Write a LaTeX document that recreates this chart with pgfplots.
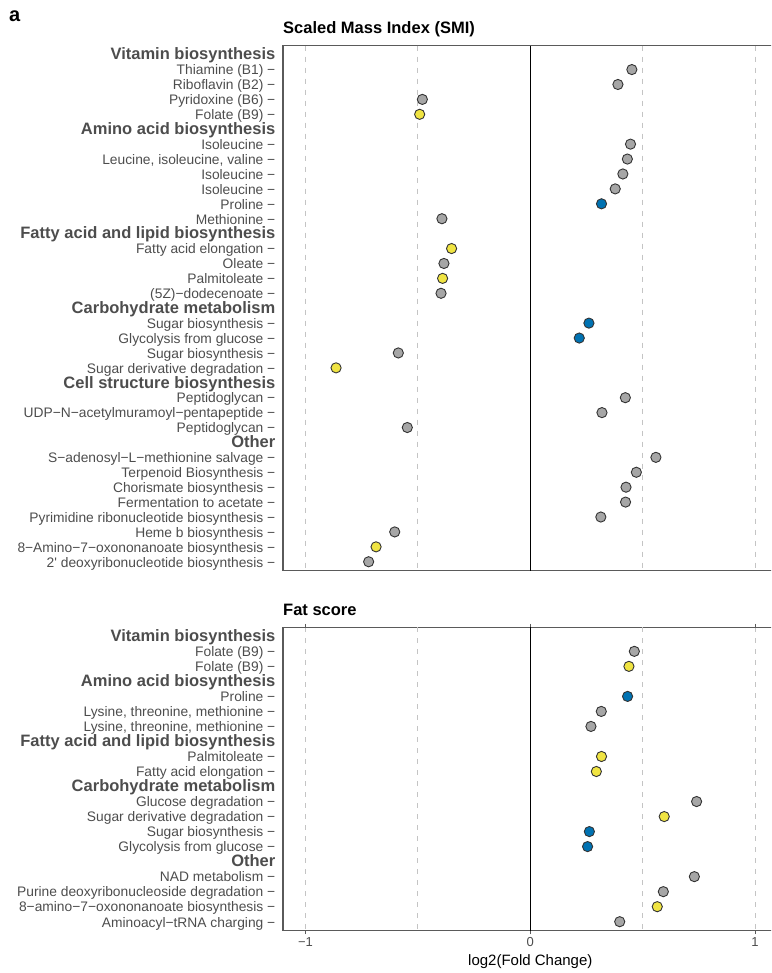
\documentclass[border=0pt]{standalone}
\usepackage{fontspec}
\setmainfont{Liberation Sans}
\usepackage{pgfplots}
\pgfplotsset{compat=1.18}

\definecolor{txtgray}{HTML}{4D4D4D}
\definecolor{ptgray}{HTML}{A6A6A6}
\definecolor{ptyellow}{HTML}{F0E442}
\definecolor{ptblue}{HTML}{0072B2}
\definecolor{gridgray}{HTML}{C4C4C4}
\definecolor{framegray}{HTML}{5A5A5A}
\definecolor{ptedge}{HTML}{333333}

% pathway group heading inside the category axis
\newcommand{\hd}[1]{{\fontsize{16.5}{16.5}\selectfont\bfseries #1}}

\pgfplotsset{
  dotpanel/.style={
    scale only axis,
    width=503.5pt,
    xmin=-1.1, xmax=1.14,
    y dir=reverse,
    axis line style={framegray, line width=1.1pt},
    tick align=outside,
    major tick length=3.5pt,
    ytick style={draw=none},
    xtick style={framegray, line width=0.9pt},
    xtick={-1,0,1},
    xmajorgrids,
    extra x ticks={-0.5,0.5},
    extra x tick labels={},
    extra x tick style={grid=major, major tick length=0pt},
    grid style={gridgray, dash pattern=on 5pt off 6pt, line width=0.9pt},
    yticklabel style={anchor=base east, inner sep=0pt, xshift=-4pt, yshift=-5.3pt,
      font=\fontsize{13.8}{13.8}\selectfont, text=txtgray},
    xticklabel style={anchor=north, inner sep=0pt, yshift=-3pt,
      font=\fontsize{13}{13}\selectfont, text=txtgray},
  },
  grey pts/.style={only marks, mark=*, mark size=5.1pt,
    mark options={fill=ptgray, draw=ptedge, line width=0.9pt}},
  yellow pts/.style={only marks, mark=*, mark size=5.1pt,
    mark options={fill=ptyellow, draw=ptedge, line width=0.9pt}},
  blue pts/.style={only marks, mark=*, mark size=5.1pt,
    mark options={fill=ptblue, draw=ptedge, line width=0.9pt}},
}

\begin{document}
\begin{tikzpicture}
\path[use as bounding box] (0pt,0pt) rectangle (771pt,-973pt);
% the panels run past the right page edge
\clip (0pt,0pt) rectangle (771pt,-973pt);

\node[anchor=base west, inner sep=0pt] at (9pt,-22pt)
  {\fontsize{20}{20}\selectfont\bfseries a};

% ---------------- Scaled Mass Index (SMI) ----------------
\node[anchor=base west, inner sep=0pt] at (283pt,-33.8pt)
  {\fontsize{16.5}{16.5}\selectfont\bfseries Scaled Mass Index (SMI)};

\begin{axis}[dotpanel,
  at={(283pt,-45.7pt)}, anchor=north west,
  height=525pt,
  ymin=0.4, ymax=35.6,
  xticklabels={},
  xtick style={draw=none},
  ytick={1,...,35},
  yticklabels={
    \hd{Vitamin biosynthesis},
    Thiamine (B1) −,
    Riboflavin (B2) −,
    Pyridoxine (B6) −,
    Folate (B9) −,
    \hd{Amino acid biosynthesis},
    Isoleucine −,
    {Leucine, isoleucine, valine −},
    Isoleucine −,
    Isoleucine −,
    Proline −,
    Methionine −,
    \hd{Fatty acid and lipid biosynthesis},
    Fatty acid elongation −,
    Oleate −,
    Palmitoleate −,
    (5Z)−dodecenoate −,
    \hd{Carbohydrate metabolism},
    Sugar biosynthesis −,
    Glycolysis from glucose −,
    Sugar biosynthesis −,
    Sugar derivative degradation −,
    \hd{Cell structure biosynthesis},
    Peptidoglycan −,
    UDP−N−acetylmuramoyl−pentapeptide −,
    Peptidoglycan −,
    \hd{Other},
    S−adenosyl−L−methionine salvage −,
    Terpenoid Biosynthesis −,
    Chorismate biosynthesis −,
    Fermentation to acetate −,
    Pyrimidine ribonucleotide biosynthesis −,
    Heme b biosynthesis −,
    8−Amino−7−oxononanoate biosynthesis −,
    2\textquotesingle{} deoxyribonucleotide biosynthesis −
  },
]
\draw[black, line width=1.1pt] (axis cs:0,0.4) -- (axis cs:0,35.6);
\addplot[grey pts] coordinates {
  (0.452,2) (0.390,3) (-0.480,4)
  (0.446,7) (0.432,8) (0.412,9) (0.378,10) (-0.393,12)
  (-0.384,15) (-0.397,17)
  (-0.587,21)
  (0.423,24) (0.319,25) (-0.547,26)
  (0.559,28) (0.472,29) (0.426,30) (0.424,31) (0.314,32) (-0.603,33) (-0.719,35)
};
\addplot[yellow pts] coordinates {
  (-0.492,5) (-0.350,14) (-0.390,16) (-0.864,22) (-0.686,34)
};
\addplot[blue pts] coordinates {
  (0.317,11) (0.261,19) (0.218,20)
};
\end{axis}

% ---------------- Fat score ----------------
\node[anchor=base west, inner sep=0pt] at (283pt,-615.8pt)
  {\fontsize{16.5}{16.5}\selectfont\bfseries Fat score};

\begin{axis}[dotpanel,
  at={(283pt,-627.3pt)}, anchor=north west,
  height=303.4pt,
  ymin=0.4, ymax=20.6,
  xticklabels={−1,0,1},
  ytick={1,...,20},
  yticklabels={
    \hd{Vitamin biosynthesis},
    Folate (B9) −,
    Folate (B9) −,
    \hd{Amino acid biosynthesis},
    Proline −,
    {Lysine, threonine, methionine −},
    {Lysine, threonine, methionine −},
    \hd{Fatty acid and lipid biosynthesis},
    Palmitoleate −,
    Fatty acid elongation −,
    \hd{Carbohydrate metabolism},
    Glucose degradation −,
    Sugar derivative degradation −,
    Sugar biosynthesis −,
    Glycolysis from glucose −,
    \hd{Other},
    NAD metabolism −,
    Purine deoxyribonucleoside degradation −,
    8−amino−7−oxononanoate biosynthesis −,
    Aminoacyl−tRNA charging −
  },
]
\draw[black, line width=1.1pt] (axis cs:0,0.4) -- (axis cs:0,20.6);
\addplot[grey pts] coordinates {
  (0.463,2) (0.316,6) (0.270,7) (0.740,12) (0.730,17) (0.592,18) (0.398,20)
};
\addplot[yellow pts] coordinates {
  (0.439,3) (0.317,9) (0.294,10) (0.596,13) (0.565,19)
};
\addplot[blue pts] coordinates {
  (0.433,5) (0.263,14) (0.255,15)
};
\end{axis}

\node[anchor=base, inner sep=0pt] at (530.3pt,-965pt)
  {\fontsize{15}{15}\selectfont log2(Fold Change)};
\end{tikzpicture}
\end{document}
